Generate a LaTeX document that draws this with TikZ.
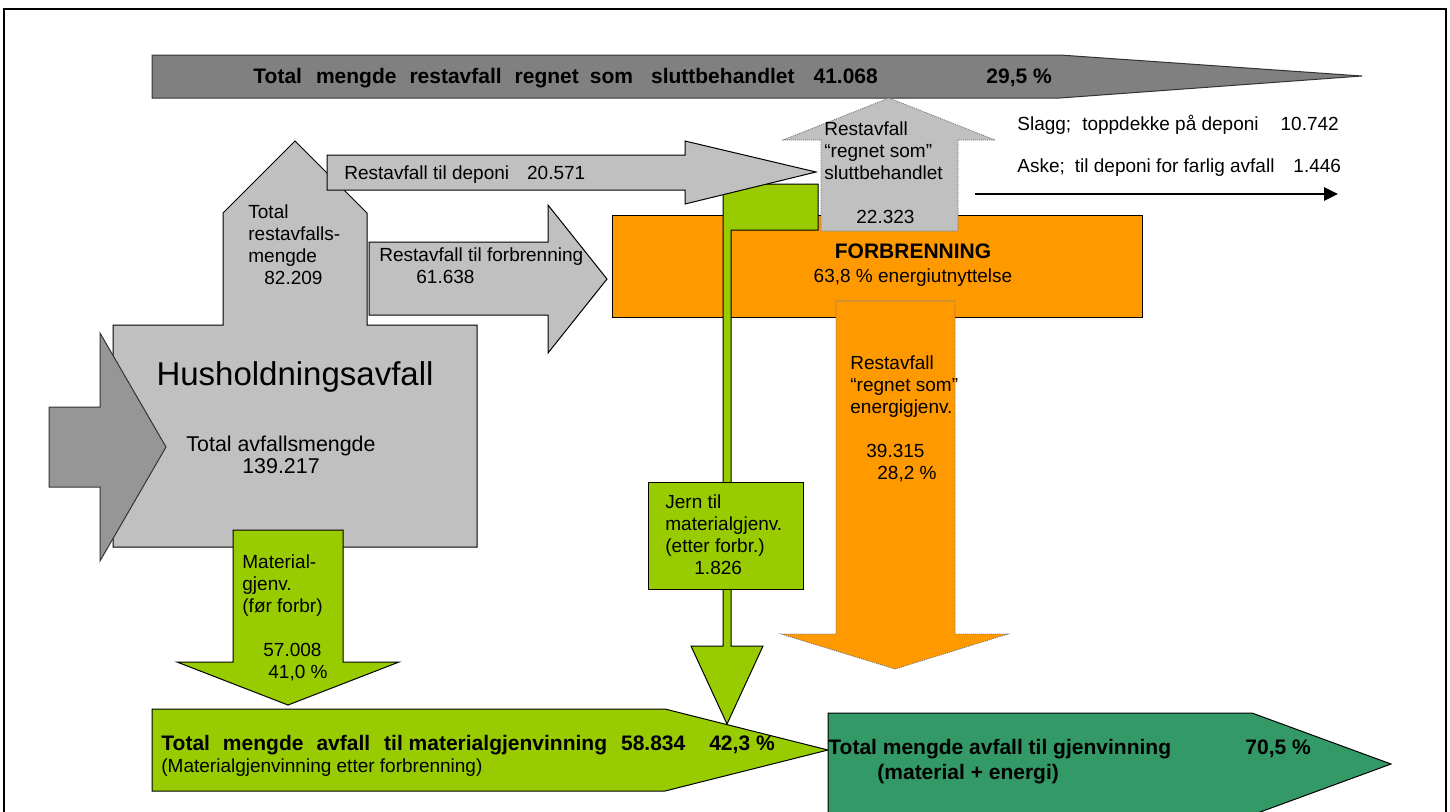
\documentclass[tikz,border=0pt]{standalone}
\usepackage{fontspec}
\setmainfont{Liberation Sans}
\usepackage{tikz}
\usetikzlibrary{positioning, arrows.meta}
\definecolor{darkgrey}{HTML}{808080}
\definecolor{midgrey}{HTML}{969696}
\definecolor{lightgrey}{HTML}{C0C0C0}
\definecolor{burnorange}{HTML}{FF9900}
\definecolor{limegreen}{HTML}{99CC00}
\definecolor{seagreen}{HTML}{339966}
\tikzset{
		block/.style={
			draw=black,
			line width=0.5pt,
			line join=miter
		},
		dark block/.style={block, fill=darkgrey, draw=black!80},
		mid block/.style={block, fill=midgrey, draw=black!80},
		grey block/.style={block, fill=lightgrey},
		orange block/.style={block, fill=burnorange},
		green block/.style={block, fill=limegreen},
		sea block/.style={block, fill=seagreen},
		dotted block/.style={
			draw=black!55,
			line width=0.4pt,
			dash pattern=on 0.5pt off 0.5pt
		},
		grey dotted/.style={dotted block, fill=lightgrey},
		orange dotted/.style={dotted block, fill=burnorange},
		label text/.style={
			font=\fontsize{9.5}{11}\selectfont,
			align=left,
			inner sep=0pt,
			anchor=base west
		},
		bold text/.style={
			font=\fontsize{10.5}{11}\selectfont\bfseries,
			inner sep=0pt,
			anchor=base west
		},
		flow arrow/.style={
			line width=1.3pt,
			-{Triangle[length=7pt, width=6.5pt]}
		}
	}
\begin{document}
\begin{tikzpicture}[x=0.5pt, y=-0.5pt]
	\useasboundingbox (0,0) rectangle (1450,811);
	\clip (0,0) rectangle (1450,811);
	\draw[line width=1pt] (3.5,9) rectangle (1445.5,840);

	% block arrows
	\draw[dark block] (152,55) -- (1060,55) -- (1362,76) -- (1060,98) -- (152,98) -- cycle;
	\draw[grey block] (113,547) -- (113,325) -- (223,325) -- (223,213) -- (295,141) -- (367,213)
		-- (367,325) -- (477,325) -- (477,547) -- cycle;
	\draw[orange block] (612,215) rectangle (1142,317);
	\draw[orange dotted] (836,301) -- (955,301) -- (955,634) -- (1008,634) -- (895,669) -- (781,634)
		-- (836,634) -- cycle;
	\draw[green block] (723,184) -- (818,184) -- (818,230) -- (731,230) -- (731,646) -- (763,646)
		-- (727,724) -- (691,646) -- (723,646) -- cycle;
	\draw[grey block] (327,155) -- (685,155) -- (685,141) -- (816,172) -- (685,204) -- (685,190)
		-- (327,190) -- cycle;
	\draw[grey block] (369,242) -- (548,242) -- (548,205) -- (607,279) -- (548,353) -- (548,315)
		-- (369,315) -- cycle;
	\draw[grey dotted] (821,231) -- (821,140) -- (783,140) -- (889,98) -- (995,140) -- (958,140)
		-- (958,231) -- cycle;
	\draw[green block] (648,482) rectangle (803,589);
	\draw[mid block] (49,407) -- (100,407) -- (100,333) -- (166,447) -- (100,561) -- (100,487)
		-- (49,487) -- cycle;
	\draw[green block] (233,530) -- (343,530) -- (343,662) -- (399,662) -- (288,705) -- (177,662)
		-- (233,662) -- cycle;
	\draw[green block] (152,709) -- (665,709) -- (828,750) -- (665,791) -- (152,791) -- cycle;
	\draw[sea block] (828,713) -- (1252,713) -- (1391,764) -- (1252,815) -- (828,815) -- cycle;

	% texts (multi-line nodes sit on their last line)
	\node[bold text] (restmengde) at (253,83) {Total\hspace{7pt}mengde\hspace{6.5pt}restavfall\hspace{6.5pt}regnet\hspace{5.5pt}som\hspace{9pt}sluttbehandlet\hspace{9.5pt}41.068};
	\node[bold text] (restpct) at (986,83) {29,5 \%};
	\node[label text] (restavfall) at (248,284) {Total\\restavfalls-\\mengde\\\hspace*{8pt}82.209};
	\node[font=\fontsize{16.5}{18}\selectfont, inner sep=0pt, anchor=base] (hushold) at (295,385) {Husholdningsavfall};
	\node[font=\fontsize{10.7}{11}\selectfont, align=center, inner sep=0pt, anchor=base] (totalmengde) at (281,473) {Total avfallsmengde\\139.217};
	\node[label text] (deponi) at (344,179) {Restavfall til deponi\hspace{9pt}20.571};
	\node[label text] (tilforbr) at (379,283) {Restavfall til forbrenning\\\hspace*{18.5pt}61.638};
	\node[bold text, anchor=base] (forbr) at (913,258) {FORBRENNING};
	\node[label text, anchor=base] (forbrpct) at (913,282) {63,8 \% energiutnyttelse};
	\node[label text] (slutt) at (824,223) {Restavfall\\“regnet som”\\sluttbehandlet\\[11pt]\hspace*{16pt}22.323};
	\node[label text] (energi) at (850,479) {Restavfall\\“regnet som”\\energigjenv.\\[11pt]\hspace*{8pt}39.315\\\hspace*{13.5pt}28,2 \%};
	\node[label text] (material) at (242,678) {Material-\\gjenv.\\(før forbr)\\[11pt]\hspace*{10.5pt}57.008\\\hspace*{13pt}41,0 \%};
	\node[label text] (jern) at (665,574) {Jern til\\materialgjenv.\\(etter forbr.)\\\hspace*{14.5pt}1.826};
	\node[label text] (slagg) at (1017,130) {Slagg;\hspace{5.5pt}toppdekke på deponi\hspace{11pt}10.742};
	\node[label text] (aske) at (1017,172) {Aske;\hspace{5pt}til deponi for farlig avfall\hspace{9.5pt}1.446};
	\coordinate (askestart) at (975,194);
	\coordinate (askeend) at (1338,194);
	\draw[flow arrow] (askestart) -- (askeend);
	\node[bold text] (matgjen) at (161,750) {Total\hspace{6.5pt}mengde\hspace{6.5pt}avfall\hspace{7pt}til materialgjenvinning\hspace{7pt}58.834\hspace{12pt}42,3 \%};
	\node[label text] (matetter) at (161,772) {(Materialgjenvinning etter forbrenning)};
	\node[bold text] (gjenv) at (828,754) {Total mengde avfall til gjenvinning};
	\node[bold text] (gjenvpct) at (1245,754) {70,5 \%};
	\node[bold text] (gjenvsub) at (877,779) {(material + energi)};
\end{tikzpicture}
\end{document}
